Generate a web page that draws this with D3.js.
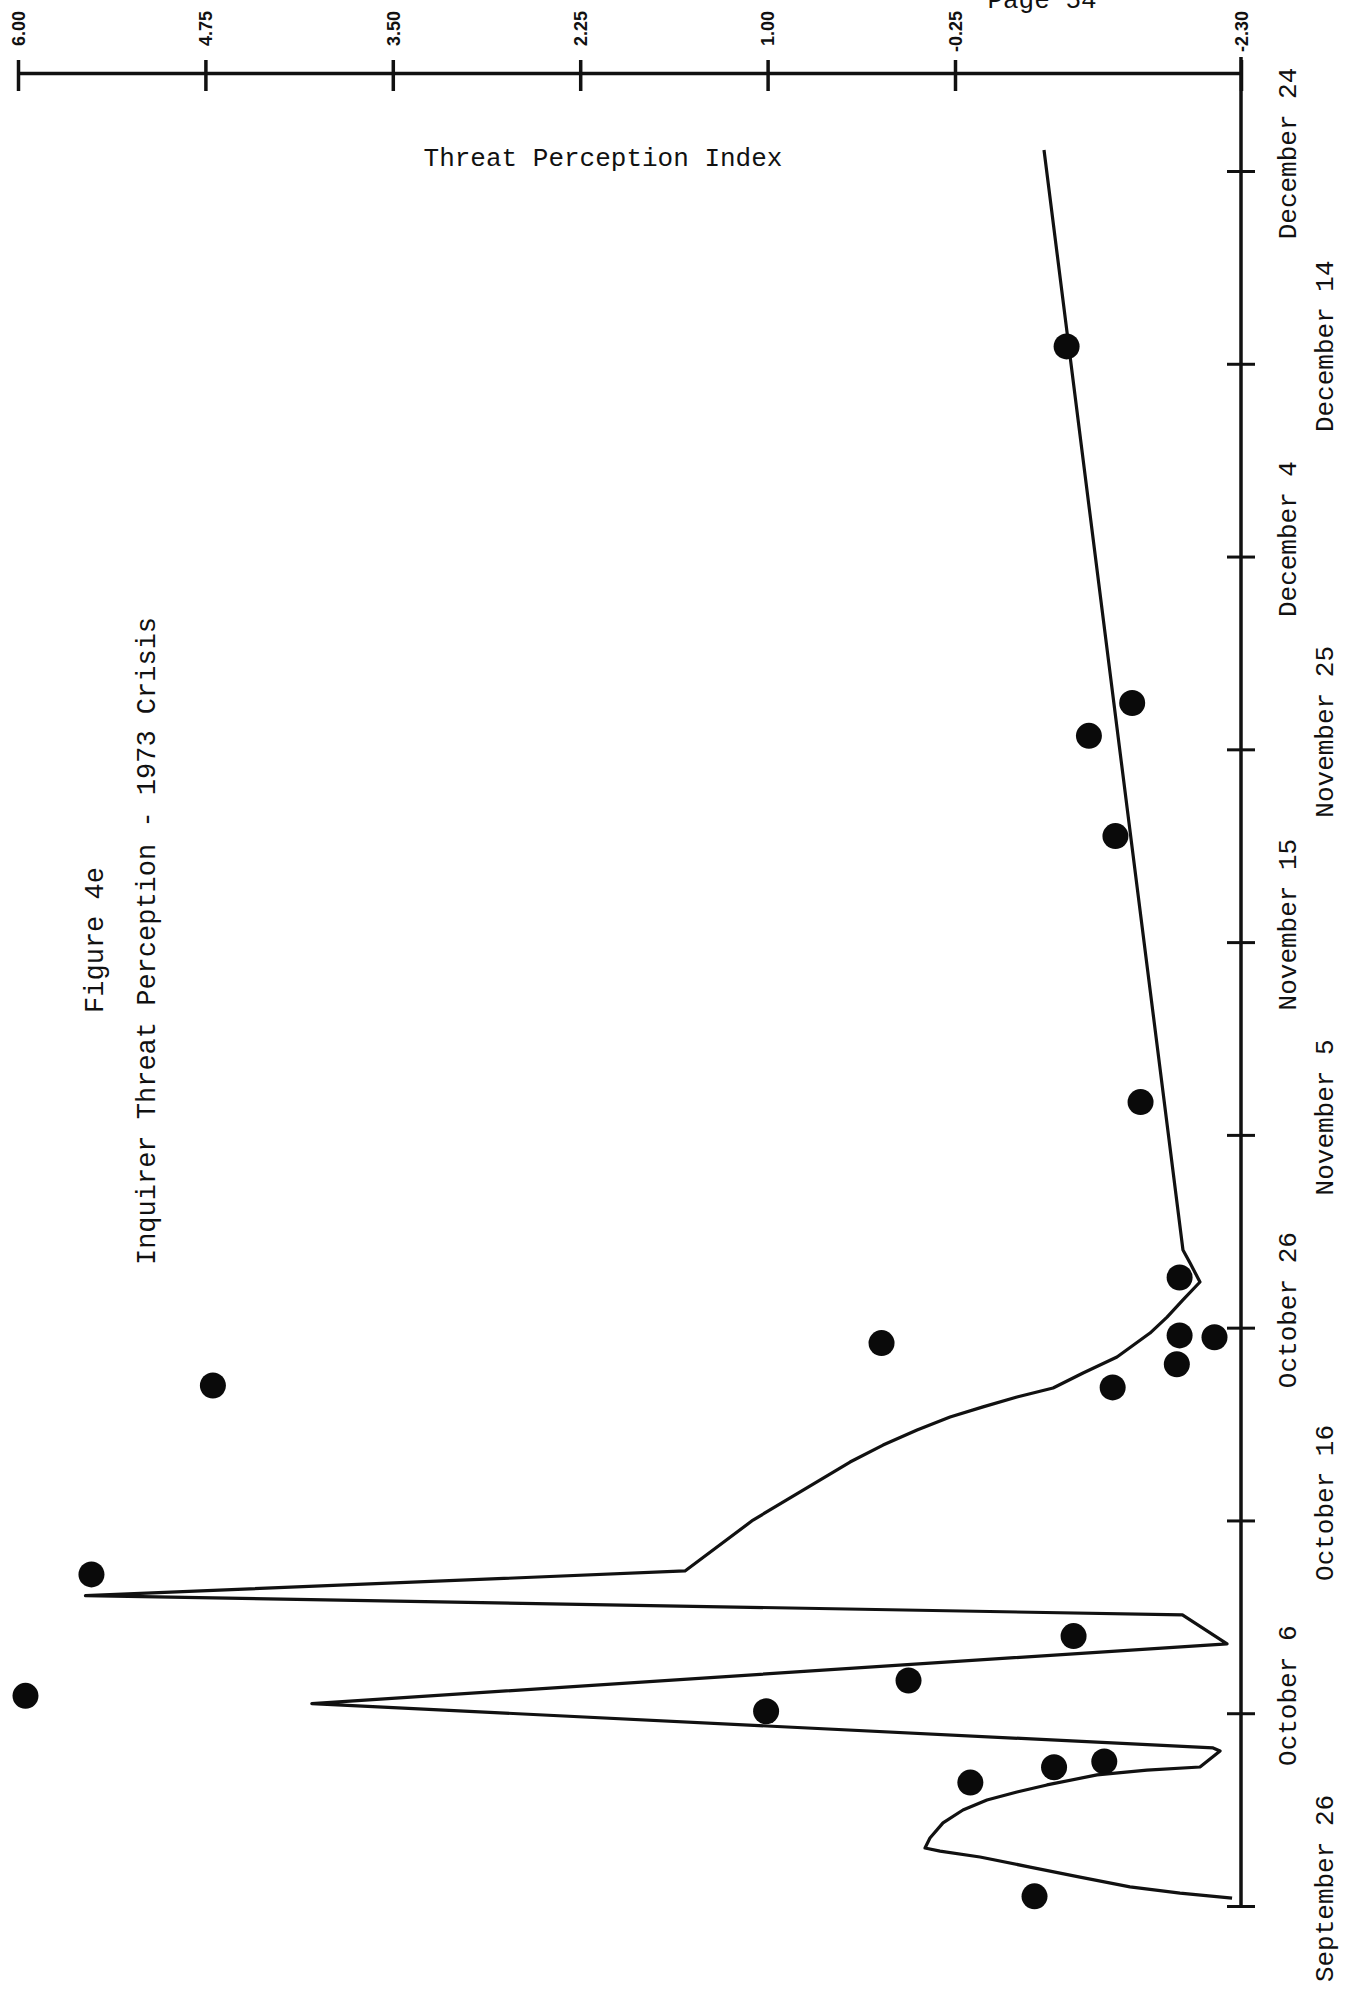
<!DOCTYPE html>
<html>
<head>
<meta charset="utf-8">
<script src="https://cdn.jsdelivr.net/npm/d3@7"></script>
<style>
  body { margin: 0; background: #fff; }
  svg { display: block; }
  .mono { font-family: "Liberation Mono", "Courier New", monospace; fill: #111; }
  .tick-label { font-family: "Liberation Sans", Arial, sans-serif; font-weight: bold; font-size: 18px; fill: #111; }
</style>
</head>
<body>
<svg></svg>
<script>
// value axis (top)
const valueTicks = [6.0, 4.75, 3.5, 2.25, 1.0, -0.25, -2.3];
const valueTickLabels = ["6.00", "4.75", "3.50", "2.25", "1.00", "-0.25", "-2.30"];

// date axis (right), days counted from September 26
const dayTicks = [0, 10, 20, 30, 40, 50, 60, 70, 80, 90];
const dayTickLabels = ["September 26", "October 6", "October 16", "October 26", "November 5",
  "November 15", "November 25", "December 4", "December 14", "December 24"];

// dots
const pointDays = [0.5, 6.4, 7.2, 7.5, 10.1, 10.9, 11.7, 14.0, 17.2, 26.9, 27.0,
  28.1, 29.2, 29.5, 29.6, 32.6, 41.7, 55.5, 60.7, 62.4, 80.9];
const pointValues = [-0.82, -0.36, -0.96, -1.32, 1.01, 5.95, 0.06, -1.1, 5.51, -1.38, 4.7,
  -1.84, 0.24, -2.11, -1.86, -1.86, -1.58, -1.4, -1.21, -1.52, -1.05];

// fitted curve (hand drawn in the original, so many points)
const lineDays = [0.41, 0.67, 0.99, 1.5, 2.02, 2.54, 2.85, 3.01, 3.53, 4.31, 4.98, 5.5, 5.91, 6.28,
  6.8, 7.05, 7.21, 8.04, 8.2, 10.5, 13.6, 15.1, 16.1, 17.38, 20.02, 23.03, 23.91, 24.69, 25.37,
  25.89, 26.4, 26.87, 27.65, 28.48, 29.72, 30.55, 31.44, 32.37, 33.35, 34.03, 91.09];
const lineValues = [-2.236, -1.863, -1.504, -1.146, -0.788, -0.429, -0.15, -0.05, -0.083, -0.17, -0.307,
  -0.479, -0.694, -0.909, -1.268, -1.626, -2.006, -2.15, -2.1, 4.04, -2.2, -1.88, 5.55, 1.551, 1.097,
  0.45, 0.23, 0.003, -0.217, -0.451, -0.694, -0.953, -1.168, -1.411, -1.648, -1.77, -1.884, -2.006,
  -1.935, -1.884, -0.888];

const width = 1356;
const height = 2011;
const axisY = 73;

const svg = d3.select("svg").attr("width", width).attr("height", height);

svg.append("rect").attr("width", width).attr("height", height).attr("fill", "#fff");

// scan's value axis is not evenly spaced past -0.25
const valueScale = d3.scaleLinear().domain([6, -0.25, -2.3]).range([18, 955, 1241]);
const dayScale = d3.scaleLinear().domain([0, 90]).range([1906, 171]);

// top axis
const topAxis = svg
  .append("g")
  .attr("transform", `translate(0,${axisY})`)
  .call(
    d3.axisTop(valueScale)
      .tickValues(valueTicks)
      .tickFormat((d, i) => valueTickLabels[i])
      .tickSizeInner(13)
      .tickSizeOuter(0)
  );
topAxis.select(".domain").attr("stroke", "#111").attr("stroke-width", 3.5);
topAxis.selectAll(".tick line").attr("y1", 18).attr("stroke", "#111").attr("stroke-width", 3.5);
topAxis
  .selectAll(".tick text")
  .attr("class", "tick-label")
  .attr("transform", "rotate(-90)")
  .attr("x", 62)
  .attr("y", 0)
  .attr("dy", "0.35em")
  .attr("text-anchor", "end");

// date axis
const xAxis = valueScale(-2.3);
svg
  .append("line")
  .attr("x1", xAxis)
  .attr("x2", xAxis)
  .attr("y1", axisY - 16)
  .attr("y2", dayScale(0))
  .attr("stroke", "#111")
  .attr("stroke-width", 3.5);

const dateAxis = svg
  .append("g")
  .attr("transform", `translate(${xAxis},0)`)
  .call(
    d3.axisRight(dayScale)
      .tickValues(dayTicks)
      .tickFormat((d, i) => dayTickLabels[i])
      .tickSizeInner(14)
      .tickSizeOuter(0)
  );
dateAxis.select(".domain").remove();
dateAxis.selectAll(".tick line").attr("x1", -14).attr("stroke", "#111").attr("stroke-width", 3);
dateAxis
  .selectAll(".tick text")
  .attr("class", "mono")
  .style("font-size", "26px")
  .attr("transform", "rotate(-90)")
  .attr("x", 18)
  .attr("y", (d, i) => (i % 2 === 0 ? 92 : 55))
  .attr("dy", 0)
  .attr("text-anchor", "middle");

// curve
const curve = d3
  .line()
  .x((d) => valueScale(d[1]))
  .y((d) => dayScale(d[0]));

svg
  .append("path")
  .datum(d3.zip(lineDays, lineValues))
  .attr("d", curve)
  .attr("fill", "none")
  .attr("stroke", "#111")
  .attr("stroke-width", 3.2)
  .attr("stroke-linejoin", "round");

// dots
svg
  .selectAll("circle.point")
  .data(d3.zip(pointDays, pointValues))
  .enter()
  .append("circle")
  .attr("class", "point")
  .attr("cx", (d) => valueScale(d[1]))
  .attr("cy", (d) => dayScale(d[0]))
  .attr("r", 13)
  .attr("fill", "#0a0a0a");

// texts
svg
  .append("text")
  .attr("class", "mono")
  .attr("x", 603)
  .attr("y", 166)
  .attr("text-anchor", "middle")
  .style("font-size", "26px")
  .text("Threat Perception Index");

svg
  .append("text")
  .attr("class", "mono")
  .attr("transform", "translate(103,940) rotate(-90)")
  .attr("text-anchor", "middle")
  .style("font-size", "27px")
  .text("Figure 4e");

svg
  .append("text")
  .attr("class", "mono")
  .attr("transform", "translate(155,941) rotate(-90)")
  .attr("text-anchor", "middle")
  .style("font-size", "27px")
  .text("Inquirer Threat Perception - 1973 Crisis");

svg
  .append("text")
  .attr("class", "mono")
  .attr("x", 1042)
  .attr("y", 8)
  .attr("text-anchor", "middle")
  .style("font-size", "26px")
  .text("Page 54");
</script>
</body>
</html>
